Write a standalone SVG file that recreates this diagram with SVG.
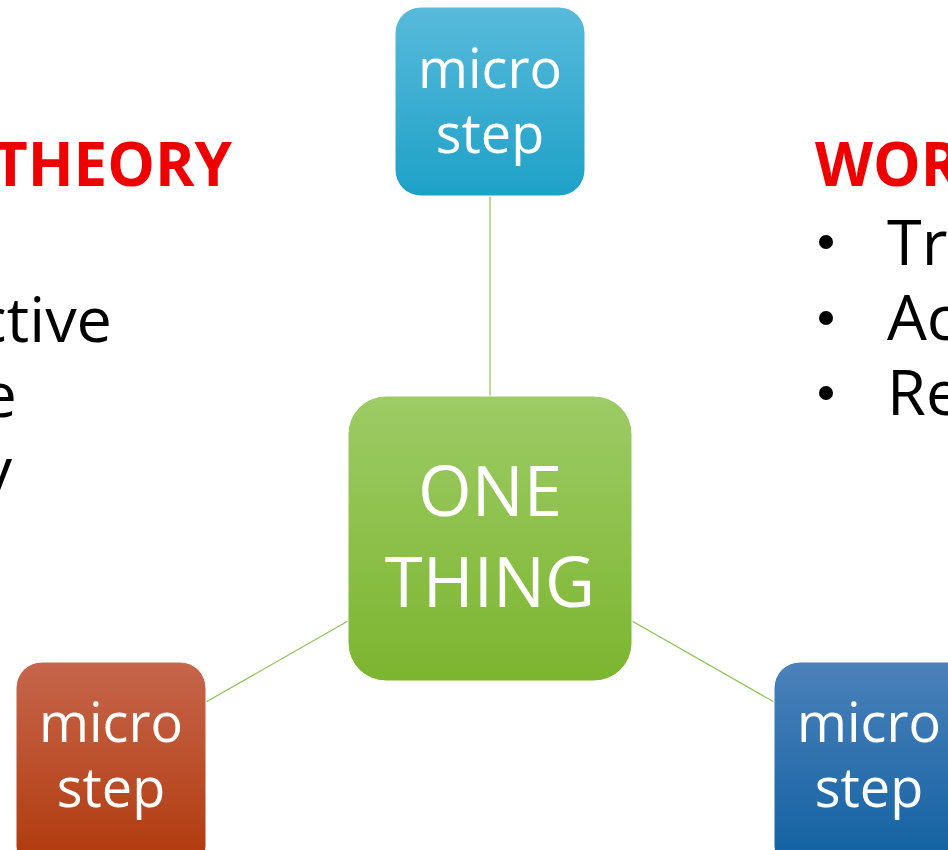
<svg xmlns="http://www.w3.org/2000/svg" width="948" height="850" viewBox="0 0 948 850">
  <defs>
    <linearGradient id="gBlueTop" x1="0" y1="0" x2="0" y2="1">
      <stop offset="0" stop-color="#58badb"/>
      <stop offset="1" stop-color="#1ea1c7"/>
    </linearGradient>
    <linearGradient id="gGreen" x1="0" y1="0" x2="0" y2="1">
      <stop offset="0" stop-color="#9dcb66"/>
      <stop offset="1" stop-color="#7cb52f"/>
    </linearGradient>
    <linearGradient id="gOrange" x1="0" y1="0" x2="0" y2="1">
      <stop offset="0" stop-color="#c6664c"/>
      <stop offset="1" stop-color="#b0380a"/>
    </linearGradient>
    <linearGradient id="gBlue" x1="0" y1="0" x2="0" y2="1">
      <stop offset="0" stop-color="#4b81ba"/>
      <stop offset="1" stop-color="#0f60a1"/>
    </linearGradient>
  </defs>
  <style>
    .node-text { font-family: "Open Sans", "Noto Sans", sans-serif; fill: #ffffff; text-anchor: middle; }
    .heading { font-family: "Open Sans", "Noto Sans", sans-serif; font-weight: 700; fill: #ee0000; font-size: 60px; }
    .body { font-family: "Open Sans", "Noto Sans", sans-serif; fill: #000000; font-size: 63px; }
    .link { stroke: #8cc152; stroke-width: 1.2; fill: none; }
    .box { stroke: #ffffff; stroke-width: 1; }
  </style>
  <rect width="948" height="850" fill="#ffffff"/>

  <!-- side text columns -->
  <g id="left-column">
    <text class="heading" x="232" y="186" text-anchor="end">THEORY</text>
    <text class="body" x="112" y="342" text-anchor="end">ctive</text>
    <text class="body" x="17" y="417" text-anchor="end">e</text>
    <text class="body" x="12" y="492" text-anchor="end">y</text>
  </g>
  <g id="right-column">
    <text class="heading" x="815" y="186">WOR</text>
    <circle cx="826" cy="242" r="7" fill="#000"/>
    <circle cx="826" cy="318" r="7" fill="#000"/>
    <circle cx="826" cy="393" r="7" fill="#000"/>
    <text class="body" x="887" y="265">Tri</text>
    <text class="body" x="887" y="340">Ac</text>
    <text class="body" x="887" y="415">Re</text>
  </g>

  <!-- connectors -->
  <g id="connectors">
    <line class="link" x1="490" y1="196" x2="490" y2="396"/>
    <line class="link" x1="206" y1="702" x2="348" y2="621"/>
    <line class="link" x1="632" y1="621" x2="774" y2="702"/>
  </g>

  <!-- nodes -->
  <g id="node-top">
    <rect class="box" x="395" y="7" width="190" height="189" rx="26" fill="url(#gBlueTop)"/>
    <text class="node-text" x="490" y="88" font-size="54">micro</text>
    <text class="node-text" x="490" y="153" font-size="54">step</text>
  </g>
  <g id="node-center">
    <rect class="box" x="348" y="396" width="284" height="285" rx="38" fill="url(#gGreen)"/>
    <text class="node-text" x="490" y="516" font-size="69">ONE</text>
    <text class="node-text" x="490" y="607" font-size="69">THING</text>
  </g>
  <g id="node-left">
    <rect class="box" x="16" y="662" width="190" height="210" rx="26" fill="url(#gOrange)"/>
    <text class="node-text" x="111" y="742" font-size="54">micro</text>
    <text class="node-text" x="111" y="807" font-size="54">step</text>
  </g>
  <g id="node-right">
    <rect class="box" x="774" y="662" width="210" height="210" rx="26" fill="url(#gBlue)"/>
    <text class="node-text" x="869" y="742" font-size="54">micro</text>
    <text class="node-text" x="869" y="807" font-size="54">step</text>
  </g>
</svg>
